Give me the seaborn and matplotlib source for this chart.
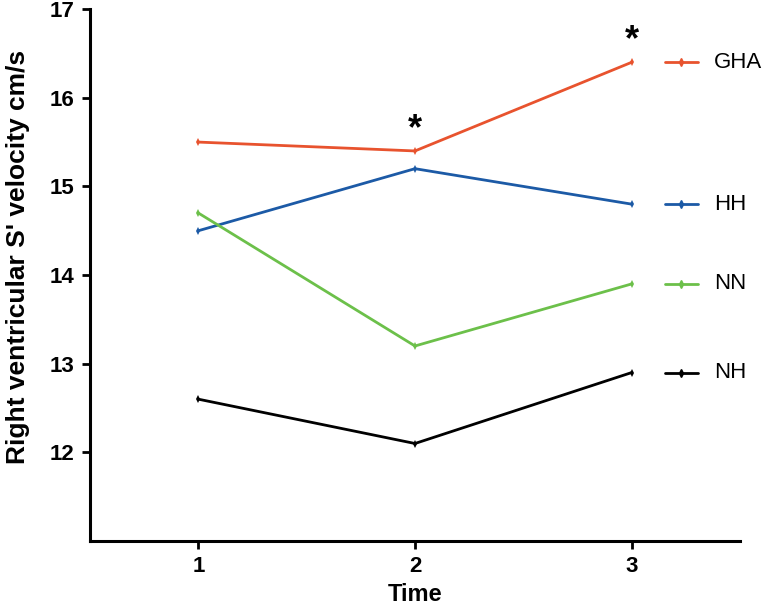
import numpy as np
import pandas as pd
import matplotlib
matplotlib.use("Agg")
import matplotlib.pyplot as plt
import matplotlib.transforms as mtransforms
from matplotlib.lines import Line2D
import seaborn as sns

# values
times = [1, 2, 3]
groups = ["GHA", "HH", "NN", "NH"]
gha = [15.5, 15.4, 16.4]
hh = [14.5, 15.2, 14.8]
nn = [14.7, 13.2, 13.9]
nh = [12.6, 12.1, 12.9]
starred_times = [2, 3]  # significant points on GHA
colors = {"GHA": "#e8532e", "HH": "#1c5aa6", "NN": "#6cc04a", "NH": "#000000"}

series = {"GHA": gha, "HH": hh, "NN": nn, "NH": nh}
df = pd.DataFrame([
    {"Time": t, "Group": g, "Velocity": v}
    for g in groups for t, v in zip(times, series[g])
])

sns.set_style("ticks")
plt.rcParams["font.family"] = ["Liberation Sans", "DejaVu Sans"]
plt.rcParams.update({"text.color": "black", "axes.labelcolor": "black",
                     "xtick.color": "black", "ytick.color": "black",
                     "axes.edgecolor": "black"})

fig = plt.figure(figsize=(7.66, 6.07), dpi=100)
ax = fig.add_axes([0.1175, 0.1087, 0.8485, 0.8763])

sns.lineplot(data=df, x="Time", y="Velocity", hue="Group", hue_order=groups,
             palette=colors, marker="d", markersize=4, markeredgewidth=0,
             linewidth=2, legend=False, ax=ax)

ax.set_xlim(0.5, 3.5)
ax.set_ylim(11, 17)
ax.set_xticks(times)
ax.set_yticks([12, 13, 14, 15, 16, 17])
ax.tick_params(axis="both", length=6, width=2, pad=5, labelsize=16)
for lab in ax.get_xticklabels() + ax.get_yticklabels():
    lab.set_fontweight("bold")
for side in ["top", "right"]:
    ax.spines[side].set_visible(False)
for side in ["left", "bottom"]:
    ax.spines[side].set_linewidth(2.2)

ax.set_xlabel("Time", fontsize=17, fontweight="bold", labelpad=4)
ax.set_ylabel("Right ventricular S' velocity cm/s", fontsize=19,
              fontweight="bold")
ax.yaxis.set_label_coords(-0.093, 0.535)

# asterisks above GHA
for t in starred_times:
    ax.annotate("*", xy=(t, gha[times.index(t)]), xytext=(0, 3),
                textcoords="offset points", ha="center", va="bottom",
                fontsize=26, fontweight="bold")

# labels at the end of each line (GraphPad-style legend)
trans = mtransforms.blended_transform_factory(ax.transAxes, ax.transData)
for g in groups:
    y_end = series[g][-1]
    ax.add_line(Line2D([0.885, 0.91, 0.935], [y_end, y_end, y_end],
                       transform=trans, color=colors[g], linewidth=2,
                       marker="d", markersize=4, markevery=[1],
                       clip_on=False))
    ax.text(0.96, y_end, g, transform=trans, va="center", ha="left",
            fontsize=16, clip_on=False)

fig.savefig("out.png", dpi=100)
